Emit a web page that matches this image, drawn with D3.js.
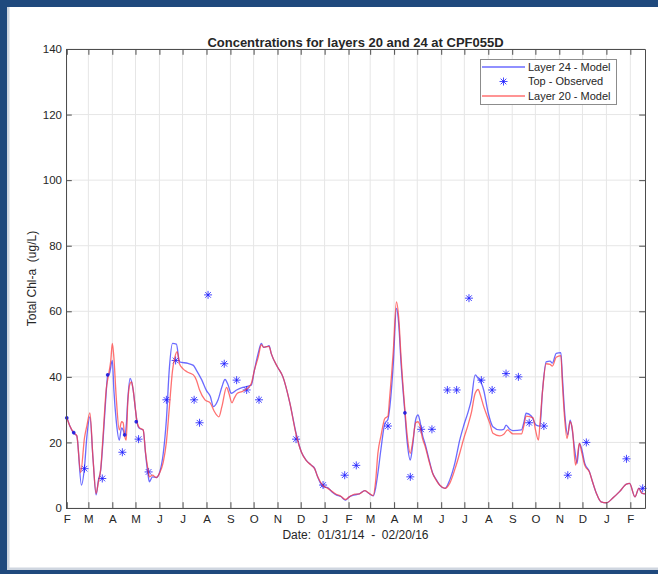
<!DOCTYPE html>
<html>
<head>
<meta charset="utf-8">
<script src="https://cdn.jsdelivr.net/npm/d3@7"></script>
<style>
  html, body { margin: 0; padding: 0; background: #ffffff; }
  svg { display: block; }
  text { font-family: "Liberation Sans", Arial, Helvetica, sans-serif; fill: #262626; white-space: pre; }
</style>
</head>
<body>
<svg id="chart" width="658" height="574"></svg>
<script>
// ---- Model layer 24 (blue) ----
const layer24Dates = [
  "2014-02-01","2014-02-05","2014-02-10","2014-02-14","2014-02-20","2014-02-24","2014-02-27","2014-03-03","2014-03-07","2014-03-11",
  "2014-03-14","2014-03-17","2014-03-20","2014-03-24","2014-03-26","2014-03-28","2014-04-01","2014-04-03","2014-04-06","2014-04-10",
  "2014-04-13","2014-04-15","2014-04-17","2014-04-19","2014-04-21","2014-04-24","2014-04-28","2014-05-01","2014-05-03","2014-05-06",
  "2014-05-11","2014-05-14","2014-05-17","2014-05-19","2014-05-23","2014-05-28","2014-06-01","2014-06-06","2014-06-10","2014-06-14",
  "2014-06-18","2014-06-23","2014-06-27","2014-07-08","2014-07-15","2014-07-19","2014-07-26","2014-08-01","2014-08-06","2014-08-10",
  "2014-08-16","2014-08-21","2014-08-25","2014-08-29","2014-09-02","2014-09-09","2014-09-17","2014-09-28","2014-10-02","2014-10-07",
  "2014-10-11","2014-10-14","2014-10-18","2014-10-21","2014-10-24","2014-11-01","2014-11-08","2014-11-17","2014-11-25","2014-12-02",
  "2014-12-08","2014-12-15","2014-12-19","2014-12-23","2014-12-30","2015-01-05","2015-01-11","2015-01-16","2015-01-22","2015-01-28",
  "2015-02-02","2015-02-09","2015-02-15","2015-02-22","2015-02-27","2015-03-05","2015-03-08","2015-03-11","2015-03-15","2015-03-20",
  "2015-03-24","2015-03-26","2015-03-31","2015-04-04","2015-04-07","2015-04-10","2015-04-15","2015-04-18","2015-04-22","2015-04-25",
  "2015-04-29","2015-05-02","2015-05-04","2015-05-08","2015-05-11","2015-05-16","2015-05-21","2015-05-26","2015-05-30","2015-06-06",
  "2015-06-12","2015-06-19","2015-06-25","2015-06-30","2015-07-06","2015-07-10","2015-07-15","2015-07-19","2015-07-21","2015-07-26",
  "2015-08-01","2015-08-07","2015-08-16","2015-08-21","2015-08-24","2015-08-29","2015-09-02","2015-09-13","2015-09-16","2015-09-19",
  "2015-09-26","2015-10-02","2015-10-07","2015-10-10","2015-10-15","2015-10-20","2015-10-23","2015-10-28","2015-11-03","2015-11-05",
  "2015-11-08","2015-11-12","2015-11-15","2015-11-17","2015-11-21","2015-11-24","2015-11-27","2015-11-30","2015-12-04","2015-12-10",
  "2015-12-14","2015-12-19","2015-12-25","2016-01-01","2016-01-10","2016-01-18","2016-01-27","2016-01-31","2016-02-07","2016-02-12",
  "2016-02-16","2016-02-20"
];
const layer24Values = [
  27.8,25,22.8,22,7,12.6,21.7,27.8,15,4,
  8.5,11.6,20.7,35,40.6,40.8,45,36,26.8,20.7,
  24.4,23.8,22.3,25,33,39.5,36,29.9,26.3,24.3,
  23.8,16.7,10.6,8,9.5,9.3,10.7,16.7,26.8,43,
  50.2,50,44.6,44.1,43.5,42,39,35.8,34,30.9,
  33,37,39.2,37.5,35,36,36.8,37.5,42,47.2,
  50.2,49,49.2,49.5,47,43,40,32,22.8,17,
  14.6,13,12.1,9.5,6.5,6.2,4.8,4,3.5,2.4,
  3.4,4,4.3,5.3,4.5,3.7,6,10.6,18,25.8,
  27,29.9,44.1,60.9,56,44.1,28.9,20,14.6,19,
  27,28.4,27,22,19.7,15,10.6,8.5,7,6,
  8.5,14,20.7,25,29.4,33,40.6,39.5,39,36,
  28.9,24.8,23.8,24,25.3,24,23.6,23.8,26,28.9,
  28,25.3,25,35,44.6,44.8,44.2,47.2,47.4,40,
  28.9,22.3,26.8,25,17.7,13.6,19.7,18,13.6,11.1,
  8,4.5,1.9,1.6,3.2,5,7.3,7.5,3.4,6,
  4.5,4.3
];

// ---- Model layer 20 (red) ----
const layer20Dates = [
  "2014-02-01","2014-02-05","2014-02-10","2014-02-14","2014-02-19","2014-02-24","2014-02-27","2014-03-03","2014-03-07","2014-03-11",
  "2014-03-14","2014-03-17","2014-03-20","2014-03-24","2014-03-27","2014-03-30","2014-04-01","2014-04-03","2014-04-06","2014-04-10",
  "2014-04-13","2014-04-15","2014-04-17","2014-04-19","2014-04-21","2014-04-24","2014-04-26","2014-04-28","2014-05-01","2014-05-03",
  "2014-05-06","2014-05-11","2014-05-14","2014-05-17","2014-05-19","2014-05-23","2014-05-28","2014-06-01","2014-06-06","2014-06-10",
  "2014-06-14","2014-06-18","2014-06-21","2014-06-24","2014-06-27","2014-07-01","2014-07-07","2014-07-15","2014-07-19","2014-07-23",
  "2014-07-30","2014-08-06","2014-08-11","2014-08-17","2014-08-21","2014-08-27","2014-08-30","2014-09-03","2014-09-06","2014-09-10",
  "2014-09-16","2014-09-23","2014-09-28","2014-10-02","2014-10-07","2014-10-11","2014-10-14","2014-10-18","2014-10-21","2014-10-24",
  "2014-11-01","2014-11-08","2014-11-17","2014-11-25","2014-12-02","2014-12-08","2014-12-15","2014-12-19","2014-12-23","2014-12-30",
  "2015-01-05","2015-01-11","2015-01-16","2015-01-22","2015-01-28","2015-02-02","2015-02-09","2015-02-15","2015-02-22","2015-02-27",
  "2015-03-05","2015-03-08","2015-03-11","2015-03-15","2015-03-20","2015-03-24","2015-03-26","2015-03-31","2015-04-04","2015-04-07",
  "2015-04-10","2015-04-15","2015-04-18","2015-04-22","2015-04-25","2015-04-29","2015-05-02","2015-05-04","2015-05-08","2015-05-11",
  "2015-05-16","2015-05-21","2015-05-26","2015-05-30","2015-06-06","2015-06-12","2015-06-19","2015-06-25","2015-06-30","2015-07-06",
  "2015-07-10","2015-07-15","2015-07-19","2015-07-21","2015-07-26","2015-08-03","2015-08-07","2015-08-16","2015-08-21","2015-08-26",
  "2015-09-02","2015-09-13","2015-09-16","2015-09-19","2015-09-28","2015-10-01","2015-10-05","2015-10-07","2015-10-10","2015-10-15",
  "2015-10-20","2015-10-23","2015-10-28","2015-11-03","2015-11-05","2015-11-08","2015-11-11","2015-11-15","2015-11-18","2015-11-22",
  "2015-11-24","2015-11-27","2015-11-30","2015-12-04","2015-12-10","2015-12-14","2015-12-19","2015-12-25","2016-01-01","2016-01-10",
  "2016-01-18","2016-01-27","2016-01-31","2016-02-07","2016-02-12","2016-02-16","2016-02-20"
];
const layer20Values = [
  27.5,25,23,22,10.8,21.5,25,29,15,4.5,
  8,12,22,36,40.5,45,50.2,46,34,23.8,
  26.3,26,22,20.7,32,38,38.5,36,30,26.3,
  24.5,23.8,17,12,9.5,10,9.3,10.5,14,20,
  31,42,46,47.7,44,42.6,41.5,40.6,39,36,
  33,32,29.5,27.8,31,36.8,35,32.1,33.5,35,
  35.5,36.5,38,42,46,49.8,49,49.2,49.3,47,
  43,40,32,22.5,17,14.5,13,12,9.5,6.8,
  6,5,4.2,3.6,2.6,3.4,4.2,4.3,5.3,4.6,
  3.8,8,16.7,22,27.3,28,33,48,62.9,58,
  46,30,22,16.7,20,26,26.3,25.5,21,19,
  14.5,10.5,8.3,7,6,7.5,12,16.7,21,25.5,
  29,35,36.2,35,31,25.8,22.8,22,22.5,23.8,
  22.6,22.6,25,28,27.5,24,20.7,26,35,44,
  43.8,43.3,46,46.5,38,27,21.2,26.3,24,13.1,
  15,19.7,17,13,11,8,4.5,1.9,1.6,3.2,
  5,7.3,7.5,3.4,6,4.5,4.3
];

// ---- Observed surface samples (asterisks) ----
const observedDates = [
  "2014-02-24","2014-03-19","2014-04-14","2014-05-05","2014-05-18",
  "2014-06-10","2014-06-22","2014-07-16","2014-07-23","2014-08-03","2014-08-24","2014-09-09","2014-09-22","2014-10-08","2014-11-25",
  "2014-12-30","2015-01-27","2015-02-11","2015-03-24","2015-04-22","2015-05-06","2015-05-20","2015-06-09","2015-06-21",
  "2015-07-07","2015-07-23","2015-08-06","2015-08-24","2015-09-09","2015-09-23","2015-10-12","2015-11-12","2015-12-06","2016-01-27",
  "2016-02-17"
];
const observedValues = [
  12,9,17,21,11,
  33,45,33,26,65,44,39,36,33,21,
  7,10,13,25,9.5,24,24,36,36,
  64,39,36,41,40,26,25,10,20,15,
  6
];
// observed samples that sit on the model curves (drawn as small specks)
const observedOnCurveDates = ["2014-02-01","2014-02-10","2014-03-26","2014-04-17","2014-05-02","2015-04-15"];
const observedOnCurveValues = [27.5,23,40.6,22.3,26.3,29];

// ---- Axis ticks and labels ----
const yTicks = [0, 20, 40, 60, 80, 100, 120, 140];
const monthLetters = ["F","M","A","M","J","J","A","S","O","N","D","J",
                      "F","M","A","M","J","J","A","S","O","N","D","J","F"];
const titleText = "Concentrations for layers 20 and 24 at CPF055D";
const xLabelText = "Date:  01/31/14  -  02/20/16";
const yLabelText = "Total Chl-a  (ug/L)";
const legendLabels = ["Layer 24 - Model", "Top - Observed", "Layer 20 - Model"];

const parse = d3.timeParse("%Y-%m-%d");
const zip = (ds, vs) => ds.map((d, i) => ({ date: parse(d), value: vs[i] }));
const layer24 = zip(layer24Dates, layer24Values);
const layer20 = zip(layer20Dates, layer20Values);
const observed = zip(observedDates, observedValues);
const observedOnCurve = zip(observedOnCurveDates, observedOnCurveValues);

const svg = d3.select("#chart");
const W = 658, H = 574;
const plot = { left: 66, right: 645, top: 49, bottom: 508 };

// slide frame
svg.append("rect").attr("x", 0).attr("y", 0).attr("width", W).attr("height", H).attr("fill", "#ffffff");
svg.append("rect").attr("x", 0).attr("y", 0).attr("width", W).attr("height", 7).attr("fill", "#1f497d");
svg.append("rect").attr("x", 0).attr("y", 0).attr("width", 7).attr("height", H).attr("fill", "#1f497d");
svg.append("rect").attr("x", 0).attr("y", 570).attr("width", W).attr("height", 4).attr("fill", "#1f497d");
svg.append("rect").attr("x", 7).attr("y", 7).attr("width", 2.5).attr("height", 563).attr("fill", "#cfd6e0");
svg.append("rect").attr("x", 7).attr("y", 567.5).attr("width", W).attr("height", 2.5).attr("fill", "#cfd6e0");

const x = d3.scaleTime()
  .domain([parse("2014-01-31"), parse("2016-02-20")])
  .range([plot.left, plot.right]);
const y = d3.scaleLinear().domain([0, 140]).range([plot.bottom, plot.top]);

const monthTicks = d3.timeMonth.range(parse("2014-02-01"), parse("2016-02-02"));

// grid
const grid = svg.append("g").attr("stroke", "#e6e6e6").attr("stroke-width", 1);
grid.selectAll("line.v").data(monthTicks).join("line")
  .attr("x1", d => x(d)).attr("x2", d => x(d))
  .attr("y1", plot.top).attr("y2", plot.bottom);
grid.selectAll("line.h").data(yTicks).join("line")
  .attr("x1", plot.left).attr("x2", plot.right)
  .attr("y1", d => y(d)).attr("y2", d => y(d));

// model curves
const line = d3.line().x(d => x(d.date)).y(d => y(d.value)).curve(d3.curveMonotoneX);
const plotG = svg.append("g");
plotG.append("path").datum(layer24)
  .attr("d", line).attr("fill", "none")
  .attr("stroke", "#3a3aff").attr("stroke-opacity", 0.75).attr("stroke-width", 1.3)
  .attr("stroke-linejoin", "round");

// asterisk marker
const starPath = r => {
  const k = r * Math.SQRT1_2;
  return `M${-r},0L${r},0M0,${-r}L0,${r}M${-k},${-k}L${k},${k}M${-k},${k}L${k},${-k}`;
};
plotG.selectAll("path.obs").data(observed).join("path")
  .attr("class", "obs")
  .attr("transform", d => `translate(${x(d.date)},${y(d.value)})`)
  .attr("d", starPath(4))
  .attr("fill", "none").attr("stroke", "#1a1aff").attr("stroke-opacity", 0.8).attr("stroke-width", 1);

plotG.append("path").datum(layer20)
  .attr("d", line).attr("fill", "none")
  .attr("stroke", "#ff3a3a").attr("stroke-opacity", 0.72).attr("stroke-width", 1.3)
  .attr("stroke-linejoin", "round");

plotG.selectAll("path.obs2").data(observedOnCurve).join("path")
  .attr("class", "obs2")
  .attr("transform", d => `translate(${x(d.date)},${y(d.value)})`)
  .attr("d", starPath(1.8))
  .attr("fill", "none").attr("stroke", "#1a1ae0").attr("stroke-opacity", 0.9).attr("stroke-width", 1.2);

// axes (ticks point inward, box on)
const axisColor = "#4d4d4d";
const tl = 5.8;
const styleAxis = g => {
  g.select(".domain").attr("stroke", axisColor);
  g.selectAll(".tick line").attr("stroke", axisColor);
  g.selectAll(".tick text").attr("fill", "#262626")
    .style("font-family", '"Liberation Sans", Arial, sans-serif').style("font-size", "11.5px");
};
svg.append("g").attr("transform", `translate(0,${plot.bottom})`)
  .call(d3.axisBottom(x).tickValues(monthTicks).tickSizeInner(-tl).tickSizeOuter(0).tickPadding(7)
    .tickFormat((d, i) => monthLetters[i]))
  .call(styleAxis);
svg.append("g").attr("transform", `translate(0,${plot.top})`)
  .call(d3.axisTop(x).tickValues(monthTicks).tickSizeInner(-tl).tickSizeOuter(0).tickFormat(""))
  .call(styleAxis);
svg.append("g").attr("transform", `translate(${plot.left},0)`)
  .call(d3.axisLeft(y).tickValues(yTicks).tickSizeInner(-tl).tickSizeOuter(0).tickPadding(4))
  .call(styleAxis);
svg.append("g").attr("transform", `translate(${plot.right},0)`)
  .call(d3.axisRight(y).tickValues(yTicks).tickSizeInner(-tl).tickSizeOuter(0).tickFormat(""))
  .call(styleAxis);

// title and axis labels
svg.append("text").attr("x", (plot.left + plot.right) / 2).attr("y", 47)
  .attr("text-anchor", "middle").style("font-size", "13px").style("font-weight", "bold")
  .attr("fill", "#000").text(titleText);
svg.append("text").attr("x", (plot.left + plot.right) / 2).attr("y", 539)
  .attr("text-anchor", "middle").style("font-size", "12px").text(xLabelText);
svg.append("text")
  .attr("transform", `translate(36,${(plot.top + plot.bottom) / 2}) rotate(-90)`)
  .attr("text-anchor", "middle").style("font-size", "12px").text(yLabelText);

// legend
const leg = svg.append("g");
leg.append("rect").attr("x", 480.5).attr("y", 59.5).attr("width", 136).attr("height", 45)
  .attr("fill", "#ffffff").attr("stroke", "#8c8c8c").attr("stroke-width", 1);
const rows = [67, 81.5, 96];
leg.append("line").attr("x1", 482).attr("x2", 525).attr("y1", rows[0]).attr("y2", rows[0])
  .attr("stroke", "#3a3aff").attr("stroke-opacity", 0.75).attr("stroke-width", 1.3);
leg.append("path").attr("transform", `translate(503.5,${rows[1]})`).attr("d", starPath(4))
  .attr("fill", "none").attr("stroke", "#1a1aff").attr("stroke-opacity", 0.8).attr("stroke-width", 1);
leg.append("line").attr("x1", 482).attr("x2", 525).attr("y1", rows[2]).attr("y2", rows[2])
  .attr("stroke", "#ff3a3a").attr("stroke-opacity", 0.72).attr("stroke-width", 1.3);
leg.selectAll("text.lab").data(legendLabels).join("text")
  .attr("class", "lab")
  .attr("x", 528).attr("y", (d, i) => rows[i]).attr("dy", "0.35em")
  .style("font-size", "11px").attr("fill", "#000").text(d => d);
</script>
</body>
</html>
